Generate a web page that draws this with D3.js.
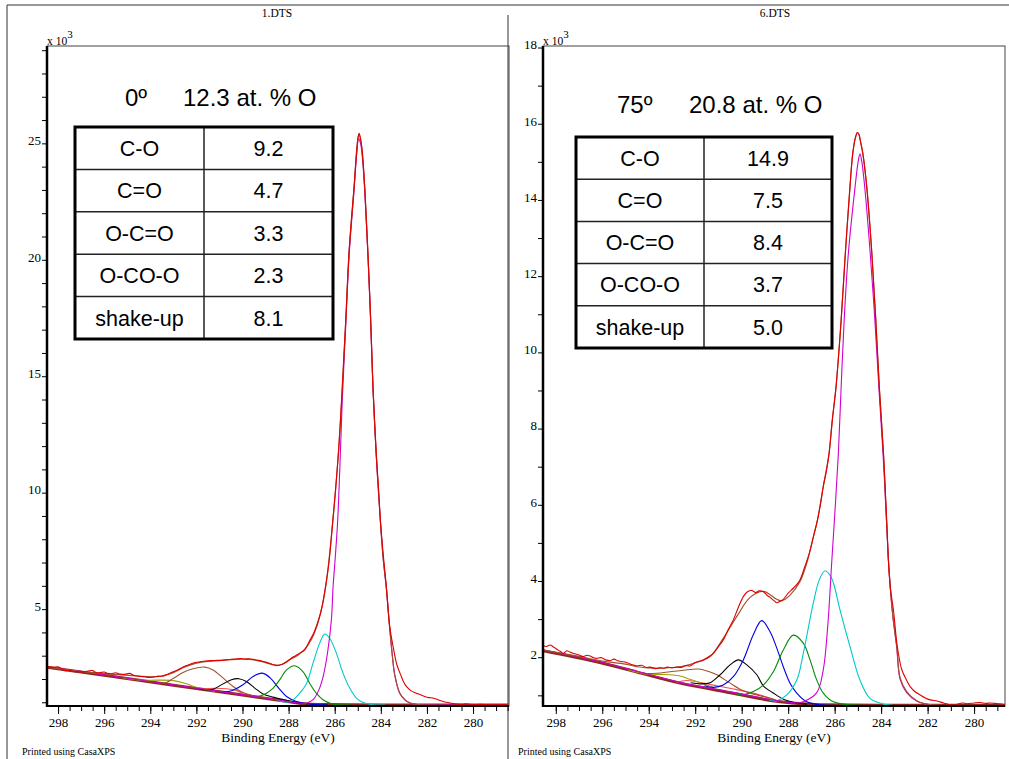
<!DOCTYPE html>
<html><head><meta charset="utf-8">
<script src="https://cdn.jsdelivr.net/npm/d3@7"></script>
<style>body{margin:0;background:#fff}svg{display:block}</style>
</head><body><svg id="c" width="1009" height="759"></svg>
<script>
// ---------- DATA ----------
const fileNames = ["1.DTS", "6.DTS"];
const angles = ["0º", "75º"];
const oxygen = ["12.3 at. % O", "20.8 at. % O"];
const tableLabels = ["C-O", "C=O", "O-C=O", "O-CO-O", "shake-up"];
const tableLeft = ["9.2", "4.7", "3.3", "2.3", "8.1"];
const tableRight = ["14.9", "7.5", "8.4", "3.7", "5.0"];
const xTickLabels = [298, 296, 294, 292, 290, 288, 286, 284, 282, 280];
const yLabelsLeft = [5, 10, 15, 20, 25];
const yLabelsRight = [2, 4, 6, 8, 10, 12, 14, 16, 18];

// Left panel (1.DTS): [binding energy eV, counts x10^3]
const rawL = [[298.45,2.52],[298.2,2.50],[298.0,2.52],[297.85,2.44],[297.7,2.36],[297.5,2.37],[297.3,2.31],[297.1,2.33],[296.9,2.30],[296.7,2.34],[296.5,2.36],[296.35,2.28],[296.2,2.27],[296.0,2.30],[295.85,2.24],[295.7,2.22],[295.5,2.27],[295.3,2.21],[295.1,2.20],[294.9,2.24],[294.7,2.15],[294.5,2.12],[294.3,2.10],[294.1,2.07],[293.9,2.08],[293.7,2.12],[293.5,2.12],[293.3,2.18],[293.1,2.27],[292.9,2.35],[292.7,2.45],[292.5,2.55],[292.3,2.62],[292.1,2.70],[291.9,2.73],[291.7,2.76],[291.5,2.78],[291.3,2.79],[291.1,2.80],[290.9,2.80],[290.7,2.82],[290.5,2.85],[290.3,2.86],[290.1,2.88],[289.9,2.86],[289.7,2.87],[289.5,2.84],[289.3,2.80],[289.1,2.75],[288.9,2.70],[288.7,2.62],[288.5,2.57],[288.3,2.62],[288.1,2.72],[287.9,2.88],[287.7,3.00],[287.5,3.12],[287.3,3.25],[287.1,3.62],[286.9,4.0],[286.7,4.55],[286.55,5.1],[286.4,5.97],[286.25,7.0],[286.08,8.83],[285.95,10.3],[285.84,11.7],[285.75,13.1],[285.67,14.55],[285.6,15.9],[285.52,17.42],[285.45,18.9],[285.38,20.28],[285.27,21.8],[285.16,23.14],[285.05,24.6],[284.98,25.3],[284.94,25.43],[284.88,25.2],[284.8,24.6],[284.7,23.14],[284.63,21.7],[284.56,20.28],[284.5,18.9],[284.44,17.42],[284.39,16.0],[284.34,14.55],[284.27,13.1],[284.2,11.7],[284.1,10.2],[284.02,8.83],[283.9,7.4],[283.76,5.97],[283.62,4.3],[283.45,3.3],[283.3,2.6],[283.11,2.11],[283.0,1.85],[282.89,1.68],[282.7,1.50],[282.46,1.39],[282.3,1.33],[282.1,1.25],[281.9,1.20],[281.74,1.18],[281.5,1.10],[281.3,1.03],[281.0,0.97],[280.8,0.93],[280.5,0.91],[280.3,0.93],[280.0,0.90],[279.7,0.91],[279.4,0.90],[279.1,0.89],[278.8,0.90],[278.5,0.89]];
const envL = [[298.5,2.51],[297,2.32],[295.5,2.20],[294.5,2.12],[294,2.09],[293.5,2.12],[293,2.27],[292.5,2.52],[292,2.68],[291.5,2.76],[291,2.79],[290.5,2.83],[290,2.85],[289.5,2.82],[289,2.70],[288.6,2.60],[288.3,2.62],[288,2.8],[287.6,3.02],[287.3,3.28],[287,3.72],[286.7,4.5],[286.4,5.9],[286.08,8.8],[285.84,11.7],[285.67,14.55],[285.52,17.4],[285.38,20.3],[285.16,23.1],[285.04,24.8],[284.95,25.4],[284.85,25.0],[284.7,23.1],[284.56,20.3],[284.44,17.4],[284.34,14.5],[284.2,11.7],[284.02,8.8],[283.9,7.2],[283.76,5.9],[283.62,4.25],[283.5,3.0],[283.4,2.2],[283.18,1.4],[282.95,1.1],[282.75,0.98],[282.4,0.9],[278.4,0.88]];
const bgL = [[298.5,2.51],[296,2.16],[293,1.73],[290,1.31],[288.5,1.10],[287.4,0.94],[286.5,0.90],[284,0.88],[278.4,0.88]];
const ccL = [[298.5,2.53],[296,2.18],[293,1.75],[290,1.33],[288.5,1.11],[287.8,1.0],[287.23,0.96],[286.94,1.11],[286.7,1.5],[286.5,2.11],[286.3,3.2],[286.14,4.6],[286.07,5.97],[285.97,7.3],[285.87,8.83],[285.78,11.0],[285.67,14.0],[285.52,17.2],[285.38,20.1],[285.16,23.0],[285.05,24.5],[284.96,25.2],[284.88,25.0],[284.8,24.4],[284.7,23.0],[284.56,20.2],[284.44,17.3],[284.34,14.5],[284.2,11.6],[284.02,8.8],[283.9,7.2],[283.76,5.9],[283.62,4.25],[283.5,3.0],[283.4,2.2],[283.18,1.39],[282.95,1.1],[282.75,0.97],[282.4,0.9],[281.5,0.88],[278.4,0.88]];
const coL = [[288.5,1.10],[287.95,1.02],[287.52,1.39],[287.23,1.79],[286.94,2.68],[286.65,3.54],[286.43,3.93],[286.22,3.75],[285.93,3.11],[285.64,2.25],[285.35,1.61],[285.06,1.18],[284.77,0.99],[284.33,0.89],[283.8,0.88]];
const c_oL = [[289.6,1.26],[289.25,1.27],[288.96,1.39],[288.67,1.61],[288.38,1.97],[288.09,2.39],[287.74,2.57],[287.38,2.32],[287.09,1.82],[286.8,1.39],[286.51,1.11],[286.14,0.94],[285.8,0.89],[285.3,0.88]];
const ocoL = [[291.0,1.45],[290.7,1.45],[290.41,1.52],[289.98,1.75],[289.54,2.11],[289.14,2.25],[288.79,2.04],[288.43,1.61],[288.09,1.25],[287.66,1.03],[287.23,0.94],[286.8,0.9],[286.3,0.89]];
const ocooL = [[292.0,1.60],[291.57,1.53],[291.28,1.56],[290.84,1.79],[290.48,1.97],[290.16,2.01],[289.83,1.89],[289.47,1.61],[289.11,1.36],[288.67,1.22],[288.09,1.08],[287.6,0.98],[287.2,0.94]];
const shakeL = [[293.6,1.82],[293.3,1.85],[293.01,2.02],[292.58,2.28],[292.15,2.44],[291.64,2.51],[291.28,2.39],[290.84,2.04],[290.41,1.68],[289.98,1.42],[289.54,1.28],[289.0,1.18],[288.5,1.10]];
const oliveL = [[295.2,2.05],[294.46,1.95],[293.7,1.95],[293.0,1.93],[292.5,1.82],[292.0,1.64],[291.57,1.53],[291.2,1.48]];
const extraL = [[292.0,1.58],[291.7,1.57],[291.2,1.60],[290.7,1.58],[290.25,1.50],[289.9,1.32]];

// Right panel (6.DTS)
const rawR = [[298.53,2.30],[298.4,2.28],[298.25,2.32],[298.1,2.27],[297.96,2.21],[297.8,2.15],[297.67,2.10],[297.53,2.17],[297.4,2.14],[297.24,2.10],[297.0,2.06],[296.81,2.02],[296.65,2.05],[296.52,2.03],[296.35,1.98],[296.24,1.97],[296.05,1.99],[295.85,1.93],[295.66,1.91],[295.5,1.95],[295.3,1.90],[295.09,1.88],[294.9,1.85],[294.7,1.80],[294.51,1.77],[294.3,1.79],[294.1,1.73],[293.94,1.74],[293.7,1.70],[293.5,1.73],[293.37,1.71],[293.2,1.74],[293.0,1.72],[292.79,1.74],[292.6,1.73],[292.4,1.78],[292.22,1.77],[292.0,1.86],[291.8,1.90],[291.65,1.93],[291.45,2.0],[291.22,2.1],[291.0,2.28],[290.79,2.45],[290.6,2.7],[290.36,2.98],[290.15,3.3],[289.93,3.59],[289.75,3.72],[289.57,3.75],[289.4,3.70],[289.25,3.74],[289.07,3.72],[288.9,3.62],[288.78,3.57],[288.6,3.48],[288.49,3.43],[288.35,3.47],[288.21,3.52],[288.0,3.68],[287.78,3.81],[287.6,3.93],[287.49,4.03],[287.3,4.35],[287.09,4.73],[286.9,5.2],[286.74,5.6],[286.6,6.05],[286.49,6.48],[286.35,6.9],[286.24,7.35],[286.1,8.23],[285.94,9.1],[285.72,10.85],[285.54,12.6],[285.34,14.35],[285.22,15.23],[285.1,15.65],[285.02,15.77],[284.95,15.7],[284.88,15.5],[284.79,15.23],[284.62,14.35],[284.4,12.6],[284.23,10.85],[284.08,9.1],[283.9,7.35],[283.76,5.6],[283.69,4.55],[283.6,3.8],[283.47,3.24],[283.33,2.4],[283.2,1.9],[283.11,1.67],[282.95,1.45],[282.75,1.23],[282.55,1.10],[282.32,1.01],[282.1,0.93],[281.89,0.88],[281.6,0.85],[281.32,0.80],[281.1,0.76],[280.9,0.73],[280.7,0.77],[280.5,0.80],[280.3,0.78],[280.0,0.80],[279.74,0.81],[279.5,0.79],[279.3,0.80],[279.1,0.79],[278.9,0.78],[278.7,0.76]];
const envR = [[298.55,2.19],[297,2.02],[296,1.90],[295,1.82],[294.5,1.75],[294,1.72],[293.5,1.71],[293,1.73],[292.5,1.77],[292,1.85],[291.36,2.02],[290.79,2.5],[290.21,3.07],[289.64,3.57],[289.07,3.73],[288.49,3.52],[288.28,3.48],[287.92,3.63],[287.49,3.99],[287.2,4.47],[286.9,5.2],[286.74,5.6],[286.49,6.48],[286.24,7.35],[286.1,8.23],[285.94,9.1],[285.72,10.85],[285.54,12.6],[285.34,14.35],[285.22,15.23],[285.1,15.65],[285.02,15.77],[284.95,15.72],[284.88,15.52],[284.79,15.23],[284.62,14.35],[284.4,12.6],[284.23,10.85],[284.08,9.1],[283.9,7.35],[283.77,5.6],[283.65,4.2],[283.5,3.1],[283.33,2.28],[283.18,1.45],[282.9,1.1],[282.47,0.86],[281.9,0.76],[278.6,0.74]];
const bgR = [[298.55,2.17],[296.24,1.88],[294.51,1.61],[292.65,1.32],[290.5,1.07],[288.35,0.83],[287.2,0.77],[286.63,0.75],[284,0.74],[278.6,0.74]];
const ccR = [[298.55,2.19],[296.24,1.90],[294.51,1.63],[292.65,1.34],[290.5,1.09],[288.35,0.85],[287.6,0.80],[287.35,0.83],[286.77,1.07],[286.49,1.67],[286.3,2.8],[286.12,4.55],[285.98,5.9],[285.84,7.35],[285.72,9.1],[285.59,10.85],[285.41,12.6],[285.12,14.35],[284.99,15.0],[284.91,15.21],[284.83,15.0],[284.7,14.3],[284.47,12.6],[284.27,10.85],[284.1,9.1],[283.92,7.35],[283.77,5.6],[283.65,4.2],[283.5,3.1],[283.33,2.28],[283.18,1.41],[282.9,1.07],[282.47,0.85],[281.9,0.75],[278.6,0.74]];
const coR = [[288.8,0.87],[288.49,0.86],[288.06,1.01],[287.63,1.4],[287.35,2.1],[286.92,3.42],[286.65,4.05],[286.41,4.27],[286.2,4.15],[286.05,3.94],[285.77,3.24],[285.34,2.28],[284.91,1.4],[284.48,0.92],[283.9,0.77],[283.5,0.74]];
const c_oR = [[290.3,1.05],[289.93,1.02],[289.5,1.10],[289.07,1.27],[288.64,1.62],[288.21,2.19],[287.78,2.58],[287.35,2.37],[287.06,1.93],[286.77,1.40],[286.49,1.06],[286.05,0.83],[285.34,0.75],[284.8,0.74]];
const ocoR = [[291.6,1.25],[291.22,1.21],[290.79,1.27],[290.36,1.49],[289.93,1.93],[289.5,2.59],[289.14,2.96],[288.78,2.67],[288.49,2.24],[288.21,1.75],[287.92,1.32],[287.63,1.06],[287.2,0.83],[286.63,0.75],[286.0,0.74]];
const ocooR = [[292.2,1.33],[291.79,1.30],[291.36,1.33],[290.93,1.54],[290.5,1.80],[290.14,1.93],[289.78,1.80],[289.35,1.54],[289.07,1.25],[288.64,1.06],[288.21,0.90],[287.78,0.82],[287.2,0.77]];
const shakeR = [[294.4,1.60],[294.23,1.58],[293.65,1.58],[293.08,1.62],[292.5,1.66],[291.86,1.69],[291.45,1.63],[291.07,1.54],[290.5,1.32],[289.93,1.12],[289.35,1.01],[288.78,0.93],[288.4,0.84]];
const oliveR = [[294.9,1.67],[294.23,1.57],[293.65,1.55],[293.1,1.54],[292.6,1.50],[292.22,1.42],[291.65,1.30],[291.2,1.20]];
const extraR = [[292.8,1.34],[292.36,1.39],[291.07,1.25],[290.21,1.15],[289.21,1.01],[288.7,0.88]];

// ---------- DRAW ----------
const svg = d3.select("#c");
const serif = "'Liberation Serif','Times New Roman',serif";
const sans = "'Liberation Sans',Arial,sans-serif";

// page frame lines
svg.append("line").attr("x1",7).attr("y1",5).attr("x2",1009).attr("y2",5).attr("stroke","#333").attr("stroke-width",1);
svg.append("line").attr("x1",7).attr("y1",5).attr("x2",7).attr("y2",759).attr("stroke","#333").attr("stroke-width",1);
svg.append("line").attr("x1",508).attr("y1",15).attr("x2",508).attr("y2",759).attr("stroke","#333").attr("stroke-width",1);

const panels = [
  {name:fileNames[0], angle:angles[0], oxy:oxygen[0], vals:tableLeft,
   left:47,right:509,top:46,bottom:706, xDom:[298.48,278.44], yDom:[0.84,29.18],
   yTicks:d3.range(1,30), yLabels:yLabelsLeft, nameX:277, printX:22,
   angleX:125, oxyX:183, titleY:106, tab:{x0:75,x1:204,x2:333,y0:127,h:42.4},
   raw:rawL, env:envL, bg:bgL, comps:[[extraL,"#f05050"],[oliveL,"#a0a000"],[shakeL,"#a0522d"],[ocooL,"#000000"],[ocoL,"#0000e0"],[c_oL,"#008c00"],[coL,"#00c8c8"],[ccL,"#d000d0"]]},
  {name:fileNames[1], angle:angles[1], oxy:oxygen[1], vals:tableRight,
   left:543,right:1005,top:46,bottom:706, xDom:[298.55,278.67], yDom:[0.72,18.04],
   yTicks:d3.range(1,19), yLabels:yLabelsRight, nameX:775, printX:518,
   angleX:617, oxyX:689, titleY:113, tab:{x0:576,x1:704,x2:832,y0:137,h:42.2},
   raw:rawR, env:envR, bg:bgR, comps:[[extraR,"#f05050"],[oliveR,"#a0a000"],[shakeR,"#a0522d"],[ocooR,"#000000"],[ocoR,"#0000e0"],[c_oR,"#008c00"],[coR,"#00c8c8"],[ccR,"#d000d0"]]}
];

panels.forEach((p,i) => {
  const g = svg.append("g");
  const x = d3.scaleLinear().domain(p.xDom).range([p.left,p.right]);
  const y = d3.scaleLinear().domain(p.yDom).range([p.bottom,p.top]);

  g.append("text").attr("x",p.nameX).attr("y",17).attr("text-anchor","middle")
    .attr("font-family",serif).attr("font-size",11.5).text(p.name);

  // plot frame
  g.append("rect").attr("x",p.left).attr("y",p.top).attr("width",p.right-p.left).attr("height",p.bottom-p.top)
    .attr("fill","none").attr("stroke","#444").attr("stroke-width",1);

  const clipId = "clip"+i;
  svg.append("clipPath").attr("id",clipId).append("rect")
    .attr("x",p.left).attr("y",p.top).attr("width",p.right-p.left).attr("height",p.bottom-p.top);
  const plot = g.append("g").attr("clip-path",`url(#${clipId})`);

  const line = d3.line().x(d=>x(d[0])).y(d=>y(d[1])).curve(d3.curveMonotoneX);
  const lineS = d3.line().x(d=>x(d[0])).y(d=>y(d[1])).curve(d3.curveCatmullRom.alpha(0.5));

  plot.append("path").datum(p.bg.slice().reverse()).attr("d",line).attr("fill","none")
    .attr("stroke","#8b2a1a").attr("stroke-width",3);
  p.comps.forEach(([data,col]) => {
    plot.append("path").datum(data).attr("d",lineS).attr("fill","none")
      .attr("stroke",col).attr("stroke-width",1.1);
  });
  plot.append("path").datum(p.env).attr("d",lineS).attr("fill","none")
    .attr("stroke","#a0522d").attr("stroke-width",1.2);
  plot.append("path").datum(p.raw).attr("d",lineS).attr("fill","none")
    .attr("stroke","#e00000").attr("stroke-width",1.1);

  // axes
  const minor = d3.range(298.0, 278.4, -0.5).filter(v=>v>=Math.min(...p.xDom)&&v<=Math.max(...p.xDom));
  g.append("g").attr("transform",`translate(0,${p.bottom})`)
    .call(d3.axisBottom(x).tickValues(minor).tickSize(5).tickFormat(""))
    .call(a=>a.select(".domain").remove());
  const xa = g.append("g").attr("transform",`translate(0,${p.bottom})`)
    .call(d3.axisBottom(x).tickValues(xTickLabels).tickSize(8).tickPadding(4).tickFormat(d3.format("d")))
    .call(a=>a.select(".domain").remove());
  xa.selectAll("text").attr("font-family",serif).attr("font-size",13).attr("fill","#000");
  g.selectAll(".tick line").attr("stroke","#000");

  const ya = g.append("g").attr("transform",`translate(${p.left},0)`)
    .call(d3.axisLeft(y).tickValues(p.yTicks).tickSize(5).tickPadding(1)
      .tickFormat(d=>p.yLabels.includes(d)?String(d):""))
    .call(a=>a.select(".domain").remove());
  ya.selectAll("text").attr("font-family",serif).attr("font-size",13).attr("fill","#000").attr("dy","0.1em");
  ya.selectAll(".tick line").attr("stroke","#000");

  // thick axis lines
  g.append("line").attr("x1",p.left).attr("x2",p.left).attr("y1",p.top).attr("y2",p.bottom+1)
    .attr("stroke","#000").attr("stroke-width",2.5);
  g.append("line").attr("x1",p.left).attr("x2",p.right).attr("y1",p.bottom).attr("y2",p.bottom)
    .attr("stroke","#000").attr("stroke-width",2);

  // x10^3
  const t = g.append("text").attr("x",p.left).attr("y",p.top-1).attr("font-family",serif).attr("font-size",11.5);
  t.append("tspan").text("x 10");
  t.append("tspan").attr("dy",-7).attr("font-size",11).text("3");

  g.append("text").attr("x",(p.left+p.right)/2).attr("y",742).attr("text-anchor","middle")
    .attr("font-family",serif).attr("font-size",13.5).text("Binding Energy (eV)");
  g.append("text").attr("x",p.printX).attr("y",755)
    .attr("font-family",serif).attr("font-size",10).text("Printed using CasaXPS");

  // title
  g.append("text").attr("x",p.angleX).attr("y",p.titleY).attr("font-family",sans).attr("font-size",24).text(p.angle);
  g.append("text").attr("x",p.oxyX).attr("y",p.titleY).attr("font-family",sans).attr("font-size",24).text(p.oxy);

  // table
  const tb = p.tab;
  const tg = g.append("g");
  tableLabels.forEach((lab,r) => {
    const yc = tb.y0 + tb.h*(r+0.5);
    tg.append("text").attr("x",(tb.x0+tb.x1)/2).attr("y",yc).attr("dy","0.36em").attr("text-anchor","middle")
      .attr("font-family",sans).attr("font-size",21.5).text(lab);
    tg.append("text").attr("x",(tb.x1+tb.x2)/2).attr("y",yc).attr("dy","0.36em").attr("text-anchor","middle")
      .attr("font-family",sans).attr("font-size",21.5).text(p.vals[r]);
    if (r>0) tg.append("line").attr("x1",tb.x0).attr("x2",tb.x2).attr("y1",tb.y0+tb.h*r).attr("y2",tb.y0+tb.h*r)
      .attr("stroke","#222").attr("stroke-width",1.5);
  });
  tg.append("line").attr("x1",tb.x1).attr("x2",tb.x1).attr("y1",tb.y0).attr("y2",tb.y0+tb.h*5)
    .attr("stroke","#222").attr("stroke-width",1.5);
  tg.append("rect").attr("x",tb.x0).attr("y",tb.y0).attr("width",tb.x2-tb.x0).attr("height",tb.h*5)
    .attr("fill","none").attr("stroke","#000").attr("stroke-width",3);
});
</script></body></html>
